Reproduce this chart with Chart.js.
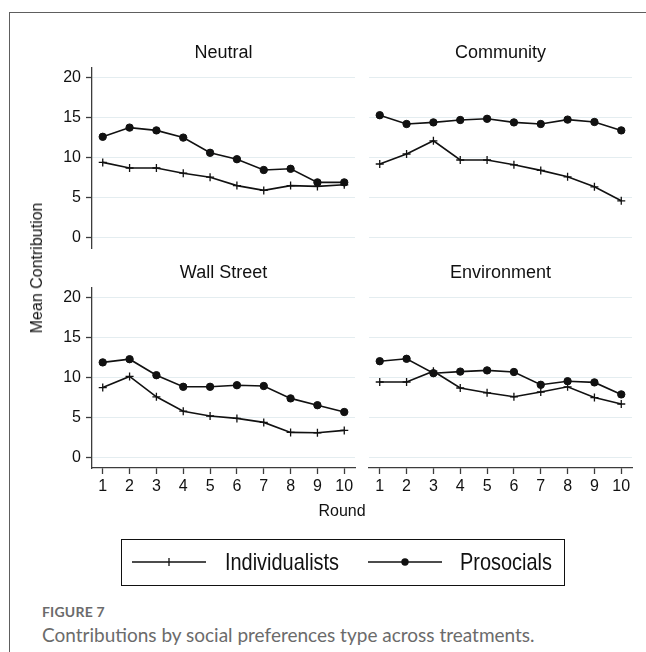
<!DOCTYPE html>
<html>
<head>
<meta charset="utf-8">
<script src="https://cdn.jsdelivr.net/npm/chart.js@4.4.1/dist/chart.umd.min.js"></script>
<style>
  html, body { margin: 0; padding: 0; background: #fff; }
  #page { position: relative; width: 646px; height: 652px; overflow: hidden; background: #fff;
          font-family: "Liberation Sans", Arial, sans-serif; color: #111; }
  .frame-top { position: absolute; left: 9px; top: 12px; width: 637px; border-top: 1px solid #5e5e5e; }
  .frame-left { position: absolute; left: 9px; top: 12px; height: 640px; border-left: 1px solid #5e5e5e; }
  canvas.panel { position: absolute; }
  .ytitle { position: absolute; left: 37px; top: 268px; font-size: 16px; white-space: nowrap;
            transform: translate(-50%, -50%) rotate(-90deg); }
  .xtitle { position: absolute; left: 342px; top: 502px; font-size: 16px; transform: translateX(-50%); }
  #legend { position: absolute; left: 121px; top: 539px; width: 444px; height: 47px;
            border: 1.3px solid #111; box-sizing: border-box; }
  #legend svg { position: absolute; top: 0; }
  #legend .lab { position: absolute; top: 0; line-height: 44px; font-size: 24px; white-space: nowrap;
                 transform: scaleX(0.83); transform-origin: left center; }
  .fig { position: absolute; left: 42px; top: 603px; font-family: Lato, "Open Sans", sans-serif;
         font-weight: 700; font-size: 14px; color: #6b6b6b; letter-spacing: 0.2px; }
  .cap { position: absolute; left: 42px; top: 623px; font-family: Lato, "Open Sans", sans-serif;
         font-size: 19px; color: #6b6b6b; white-space: nowrap; }
</style>
</head>
<body>
<div id="page">
  <div class="frame-top"></div>
  <div class="frame-left"></div>
  <canvas class="panel" id="p0"></canvas>
  <canvas class="panel" id="p1"></canvas>
  <canvas class="panel" id="p2"></canvas>
  <canvas class="panel" id="p3"></canvas>
  <div class="ytitle">Mean Contribution</div>
  <div class="xtitle">Round</div>
  <div id="legend"></div>
  <div class="fig">FIGURE 7</div>
  <div class="cap">Contributions by social preferences type across treatments.</div>
</div>
<script>
// Rounds of the game and the y-axis ticks
const rounds = [1, 2, 3, 4, 5, 6, 7, 8, 9, 10];
const yTicks = [0, 5, 10, 15, 20];
const seriesNames = ['Individualists', 'Prosocials'];
const panelNames = ['Neutral', 'Community', 'Wall Street', 'Environment'];

// Mean contribution per round, by treatment and social preference type
const neutralIndividualists = [9.4, 8.7, 8.7, 8.05, 7.55, 6.5, 5.9, 6.5, 6.4, 6.6];
const neutralProsocials = [12.6, 13.75, 13.4, 12.5, 10.6, 9.8, 8.45, 8.6, 6.9, 6.9];
const communityIndividualists = [9.2, 10.45, 12.1, 9.7, 9.7, 9.1, 8.4, 7.6, 6.35, 4.6];
const communityProsocials = [15.3, 14.2, 14.4, 14.7, 14.85, 14.4, 14.2, 14.75, 14.45, 13.4];
const wallStreetIndividualists = [8.75, 10.15, 7.6, 5.8, 5.2, 4.9, 4.4, 3.15, 3.1, 3.4];
const wallStreetProsocials = [11.9, 12.3, 10.3, 8.85, 8.85, 9.05, 8.95, 7.4, 6.55, 5.7];
const environmentIndividualists = [9.45, 9.45, 10.8, 8.7, 8.1, 7.6, 8.2, 8.85, 7.5, 6.7];
const environmentProsocials = [12.05, 12.35, 10.55, 10.75, 10.9, 10.7, 9.1, 9.55, 9.4, 7.9];

const panelSeries = [
  [neutralIndividualists, neutralProsocials],
  [communityIndividualists, communityProsocials],
  [wallStreetIndividualists, wallStreetProsocials],
  [environmentIndividualists, environmentProsocials]
];

// Layout of the 2x2 grid of plot regions
const FONT = '"Liberation Sans", Arial, sans-serif';
const INK = '#111';
const AXIS = '#3c3c3c';
const GRID = '#e4edf0';
const PLOT_LEFT = [92, 369];
const PLOT_TOP = [68, 288];
const PLOT_W = 263, PLOT_H = 180;
const PAD_L = 70, PAD_T = 40, PAD_R = 10, PAD_B = 40;

const marker = [
  { pointStyle: 'cross', pointRadius: 4, pointBorderWidth: 1.3 },
  { pointStyle: 'circle', pointRadius: 3.7, pointBorderWidth: 1 }
];

// Draws the panel heading centred above its plot area
const panelTitle = {
  id: 'panelTitle',
  afterDraw(chart, args, opts) {
    const { ctx, chartArea } = chart;
    ctx.save();
    ctx.font = '18px ' + FONT;
    ctx.fillStyle = INK;
    ctx.textAlign = 'center';
    ctx.textBaseline = 'alphabetic';
    ctx.fillText(opts.text, (chartArea.left + chartArea.right) / 2, chartArea.top - 10);
    ctx.restore();
  }
};

function makePanel(i) {
  const col = i % 2, row = Math.floor(i / 2);
  const showY = col === 0, showX = row === 1;
  const canvas = document.getElementById('p' + i);
  const w = PAD_L + PLOT_W + PAD_R, h = PAD_T + PLOT_H + PAD_B;
  canvas.width = w; canvas.height = h;
  canvas.style.width = w + 'px'; canvas.style.height = h + 'px';
  canvas.style.left = (PLOT_LEFT[col] - PAD_L) + 'px';
  canvas.style.top = (PLOT_TOP[row] - PAD_T) + 'px';

  const datasets = panelSeries[i].map((vals, k) => Object.assign({
    label: seriesNames[k],
    data: vals,
    borderColor: INK,
    backgroundColor: INK,
    pointBackgroundColor: INK,
    pointBorderColor: INK,
    borderWidth: 1.6,
    tension: 0,
    fill: false,
    clip: false
  }, marker[k]));

  new Chart(canvas, {
    type: 'line',
    data: { labels: rounds, datasets },
    plugins: [panelTitle],
    options: {
      responsive: false,
      animation: false,
      events: [],
      layout: { padding: { left: 0, top: PAD_T, right: PAD_R, bottom: showX ? 0 : PAD_B } },
      plugins: {
        legend: { display: false },
        tooltip: { enabled: false },
        panelTitle: { text: panelNames[i] }
      },
      scales: {
        x: {
          type: 'linear', min: 0.6, max: 10.4,
          display: showX,
          afterBuildTicks: s => { s.ticks = rounds.map(v => ({ value: v })); },
          afterFit: s => { s.height = showX ? PAD_B : 0; },
          grid: { display: true, drawOnChartArea: false, drawTicks: true, tickLength: 6,
                  tickColor: AXIS, tickWidth: 1.3 },
          border: { display: true, color: AXIS, width: 1.3 },
          ticks: { color: INK, font: { family: FONT, size: 16 }, padding: 3,
                   maxRotation: 0, autoSkip: false }
        },
        y: {
          type: 'linear', min: -1.3, max: 21.2,
          afterBuildTicks: s => { s.ticks = yTicks.map(v => ({ value: v })); },
          afterFit: s => { s.width = PAD_L; },
          grid: { color: GRID, lineWidth: 1, drawTicks: showY, tickLength: 6,
                  tickColor: AXIS, tickWidth: 1.3 },
          border: { display: showY, color: AXIS, width: 1.3 },
          ticks: { display: showY, color: INK, font: { family: FONT, size: 16 }, padding: 5 }
        }
      }
    }
  });
}

panelNames.forEach((_, i) => makePanel(i));

// Legend: one key per series, line with its marker, inside a framed box
const legend = document.getElementById('legend');
const keyPos = [{ sym: 10, text: 103 }, { sym: 246, text: 338 }];
seriesNames.forEach((name, k) => {
  const svgNS = 'http://www.w3.org/2000/svg';
  const svg = document.createElementNS(svgNS, 'svg');
  svg.setAttribute('width', 74); svg.setAttribute('height', 44);
  svg.style.left = keyPos[k].sym + 'px';
  const line = document.createElementNS(svgNS, 'line');
  line.setAttribute('x1', 0); line.setAttribute('x2', 74);
  line.setAttribute('y1', 22); line.setAttribute('y2', 22);
  line.setAttribute('stroke', INK); line.setAttribute('stroke-width', 1.6);
  svg.appendChild(line);
  if (k === 0) {
    const v = document.createElementNS(svgNS, 'line');
    v.setAttribute('x1', 37); v.setAttribute('x2', 37);
    v.setAttribute('y1', 18); v.setAttribute('y2', 26);
    v.setAttribute('stroke', INK); v.setAttribute('stroke-width', 1.3);
    svg.appendChild(v);
  } else {
    const c = document.createElementNS(svgNS, 'circle');
    c.setAttribute('cx', 37); c.setAttribute('cy', 22); c.setAttribute('r', 3.7);
    c.setAttribute('fill', INK);
    svg.appendChild(c);
  }
  legend.appendChild(svg);
  const lab = document.createElement('div');
  lab.className = 'lab';
  lab.style.left = keyPos[k].text + 'px';
  lab.textContent = name;
  legend.appendChild(lab);
});
</script>
</body>
</html>
